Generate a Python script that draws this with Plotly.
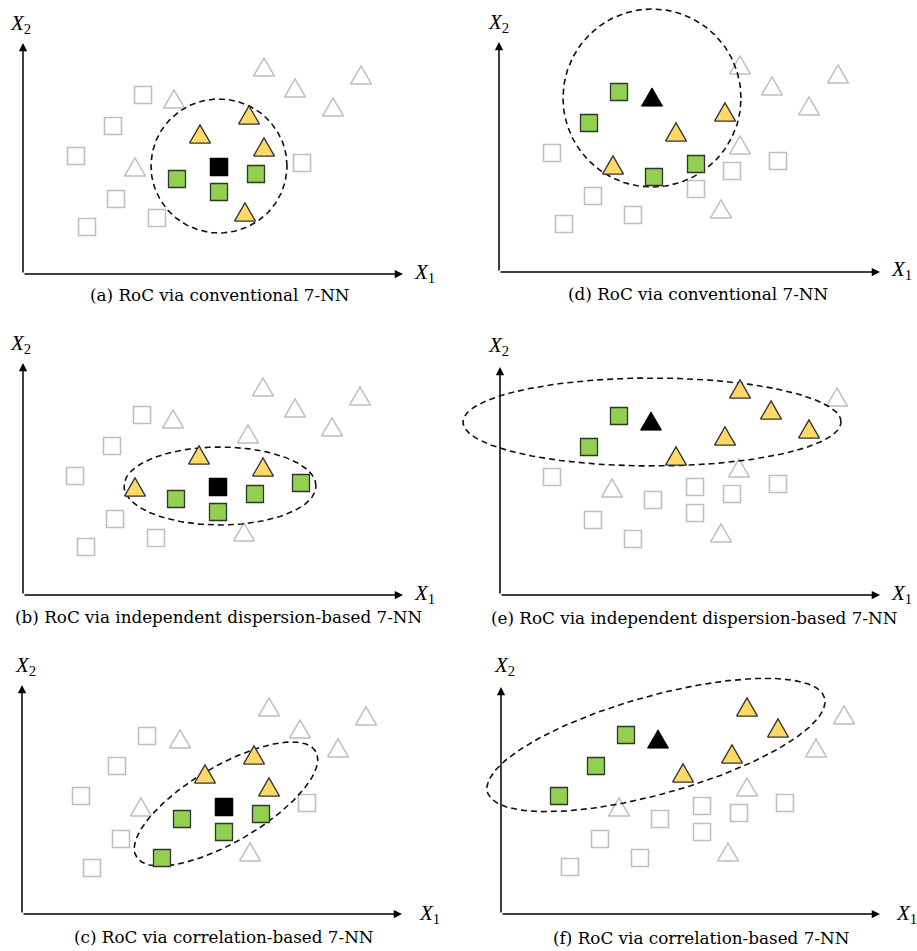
import numpy as np
import plotly.graph_objects as go

# ---------------- data (local coordinates: x right, y up from axis origin) -------------
captions = ["(a) RoC via conventional 7-NN",
            "(b) RoC via independent dispersion-based 7-NN",
            "(c) RoC via correlation-based 7-NN",
            "(d) RoC via conventional 7-NN",
            "(e) RoC via independent dispersion-based 7-NN",
            "(f) RoC via correlation-based 7-NN"]

# panel (a)
a_gray_sq = [(120, 179), (90, 148), (53, 118), (93, 75), (64, 47), (134, 56), (279, 111)]
a_gray_tri = [(241, 207), (338, 199), (272, 186), (310, 167), (151, 175), (112, 107)]
a_yel_tri = [(226, 159), (177, 140), (241, 127), (222, 62)]
a_grn_sq = [(154, 95), (196, 82), (233, 100)]
a_query = (196, 107)
a_ellipse = (196, 108, 68, 67, 0.0)      # cx, cy, a, b, angle(deg)

# panel (b)
b_gray_sq = [(119, 180), (89, 149), (52, 119), (92, 76), (63, 48), (133, 57)]
b_gray_tri = [(240, 208), (337, 199), (272, 187), (309, 168), (150, 176), (225, 161), (221, 63)]
b_yel_tri = [(176, 140), (240, 128), (112, 108)]
b_grn_sq = [(153, 96), (195, 83), (232, 101), (278, 112)]
b_query = (195, 108)
b_ellipse = (197, 109, 96, 39, 0.0)

# panel (c)
c_gray_sq = [(125, 178), (95, 148), (59, 118), (99, 75), (70, 46), (285, 111)]
c_gray_tri = [(247, 207), (344, 198), (278, 185), (316, 166), (158, 175), (119, 107), (228, 62)]
c_yel_tri = [(183, 140), (232, 159), (247, 127)]
c_grn_sq = [(160, 95), (202, 82), (239, 100), (140, 56)]
c_query = (202, 107)
c_ellipse = (204, 110, 104, 38, 30.4)

# panel (d)
d_gray_sq = [(53, 119), (94, 76), (65, 48), (134, 57), (197, 83), (233, 101), (279, 111)]
d_gray_tri = [(241, 207), (273, 186), (339, 198), (310, 166), (241, 127), (222, 63)]
d_yel_tri = [(226, 160), (177, 140), (114, 107)]
d_grn_sq = [(120, 180), (90, 149), (155, 95), (197, 108)]
d_query = (153, 175)
d_ellipse = (153, 174, 89, 89, 0.0)

# panel (e)
e_gray_sq = [(52, 118), (93, 75), (133, 56), (153, 95), (195, 108), (195, 82), (232, 101), (278, 111)]
e_gray_tri = [(112, 107), (239, 127), (221, 62), (337, 198)]
e_yel_tri = [(240, 206), (271, 185), (309, 166), (225, 159), (176, 139)]
e_grn_sq = [(119, 179), (89, 148)]
e_query = (151, 174)
e_ellipse = (152, 173, 189, 44, 0.0)

# panel (f)
f_gray_sq = [(69, 47), (99, 75), (139, 56), (159, 95), (201, 108), (201, 82), (238, 101), (284, 111)]
f_gray_tri = [(118, 107), (246, 127), (227, 62), (343, 199), (315, 166)]
f_yel_tri = [(246, 207), (277, 186), (231, 160), (182, 141)]
f_grn_sq = [(125, 179), (95, 148), (58, 118)]
f_query = (157, 175)
f_ellipse = (155, 169, 175, 49, 15.6)

query_shape = ["square", "square", "square", "triangle", "triangle", "triangle"]
x_axis_len = [380, 380, 380, 381, 380, 379]
y_axis_len = [231, 232, 229, 230, 228, 227]
x1_label_pos = [(390, 1), (390, 1), (396, 0), (391, 2), (390, 1), (394, 0)]
x2_label_pos = [(-14, 250), (-14, 251), (-8, 248), (-12, 249), (-13, 249), (-8, 248)]
caption_pos = [(197, -21), (195, -22), (202, -23), (199, -22), (194, -23), (200, -24)]

# page position of each panel's axis origin (px) - layout
origins = [(23, 274), (23, 595), (22, 914), (499, 272), (500, 595), (501, 914)]

# ---------------- style ------------------------------------------------------------------
W, H = 917, 951
GRAY = "#BFBFBF"
YEL = "#FFD966"
GRN = "#92D050"
EDGE = "#333333"
SQ = 17
TRI_S = 21
FONT = "DejaVu Serif"
LABEL_FONT = "Liberation Serif"

panels = [
    (a_gray_sq, a_gray_tri, a_yel_tri, a_grn_sq, a_query, a_ellipse),
    (b_gray_sq, b_gray_tri, b_yel_tri, b_grn_sq, b_query, b_ellipse),
    (c_gray_sq, c_gray_tri, c_yel_tri, c_grn_sq, c_query, c_ellipse),
    (d_gray_sq, d_gray_tri, d_yel_tri, d_grn_sq, d_query, d_ellipse),
    (e_gray_sq, e_gray_tri, e_yel_tri, e_grn_sq, e_query, e_ellipse),
    (f_gray_sq, f_gray_tri, f_yel_tri, f_grn_sq, f_query, f_ellipse),
]


def tri_path(points, s=TRI_S):
    h = s * np.sqrt(3) / 2
    xs, ys = [], []
    for (cx, cy) in points:
        xs += [cx - s / 2, cx + s / 2, cx, cx - s / 2, None]
        ys += [cy - h / 2, cy - h / 2, cy + h / 2, cy - h / 2, None]
    return xs, ys


fig = go.Figure()
layout_axes = {}
annotations = []

for i, (gsq, gtri, ytri, gsqr, q, ell) in enumerate(panels):
    col = 0 if i < 3 else 1
    row = i % 3
    ox, oy = origins[i]
    px0, px1 = (0, W / 2) if col == 0 else (W / 2, W)
    py0, py1 = row * H / 3, (row + 1) * H / 3  # page top, page bottom
    xr = [px0 - ox, px1 - ox]
    yr = [oy - py1, oy - py0]
    sfx = "" if i == 0 else str(i + 1)
    xa, ya = "x" + sfx, "y" + sfx
    layout_axes["xaxis" + sfx] = dict(domain=[px0 / W, px1 / W], range=xr, visible=False,
                                      fixedrange=True, anchor=ya)
    layout_axes["yaxis" + sfx] = dict(domain=[1 - py1 / H, 1 - py0 / H], range=yr, visible=False,
                                      fixedrange=True, anchor=xa)

    # gray squares
    fig.add_trace(go.Scatter(x=[p[0] for p in gsq], y=[p[1] for p in gsq], mode="markers",
                             marker=dict(symbol="square", size=SQ, color="white",
                                         line=dict(color=GRAY, width=1.6)),
                             xaxis=xa, yaxis=ya, hoverinfo="skip", showlegend=False))
    # gray triangles
    tx, ty = tri_path(gtri)
    fig.add_trace(go.Scatter(x=tx, y=ty, mode="lines", fill="toself", fillcolor="white",
                             line=dict(color=GRAY, width=1.5),
                             xaxis=xa, yaxis=ya, hoverinfo="skip", showlegend=False))
    # ellipse
    cx, cy, ea, eb, ang = ell
    t = np.linspace(0, 2 * np.pi, 240)
    th = np.deg2rad(ang)
    ex = cx + ea * np.cos(t) * np.cos(th) - eb * np.sin(t) * np.sin(th)
    ey = cy + ea * np.cos(t) * np.sin(th) + eb * np.sin(t) * np.cos(th)
    fig.add_trace(go.Scatter(x=ex, y=ey, mode="lines",
                             line=dict(color="#111111", width=1.6, dash="6px,4px"),
                             xaxis=xa, yaxis=ya, hoverinfo="skip", showlegend=False))
    # yellow triangles
    tx, ty = tri_path(ytri)
    fig.add_trace(go.Scatter(x=tx, y=ty, mode="lines", fill="toself", fillcolor=YEL,
                             line=dict(color=EDGE, width=1.3),
                             xaxis=xa, yaxis=ya, hoverinfo="skip", showlegend=False))
    # green squares
    fig.add_trace(go.Scatter(x=[p[0] for p in gsqr], y=[p[1] for p in gsqr], mode="markers",
                             marker=dict(symbol="square", size=SQ, color=GRN,
                                         line=dict(color=EDGE, width=1.3)),
                             xaxis=xa, yaxis=ya, hoverinfo="skip", showlegend=False))
    # query point
    if query_shape[i] == "square":
        fig.add_trace(go.Scatter(x=[q[0]], y=[q[1]], mode="markers",
                                 marker=dict(symbol="square", size=SQ + 1, color="black",
                                             line=dict(color="black", width=0.5)),
                                 xaxis=xa, yaxis=ya, hoverinfo="skip", showlegend=False))
    else:
        tx, ty = tri_path([q])
        fig.add_trace(go.Scatter(x=tx, y=ty, mode="lines", fill="toself", fillcolor="black",
                                 line=dict(color="black", width=1),
                                 xaxis=xa, yaxis=ya, hoverinfo="skip", showlegend=False))

    # axes with arrows
    annotations.append(dict(x=x_axis_len[i], y=0, ax=0, ay=0, xref=xa, yref=ya, axref=xa, ayref=ya,
                            showarrow=True, arrowhead=2, arrowsize=1.1, arrowwidth=1.5,
                            arrowcolor="black", text="", standoff=0))
    annotations.append(dict(x=0, y=y_axis_len[i], ax=0, ay=0, xref=xa, yref=ya, axref=xa, ayref=ya,
                            showarrow=True, arrowhead=2, arrowsize=1.1, arrowwidth=1.5,
                            arrowcolor="black", text="", standoff=0))
    annotations.append(dict(x=x1_label_pos[i][0], y=x1_label_pos[i][1], xref=xa, yref=ya,
                            text="<i>X</i><sub>1</sub>", showarrow=False,
                            xanchor="left", yanchor="middle", borderpad=0,
                            font=dict(family=LABEL_FONT, size=21, color="black")))
    annotations.append(dict(x=x2_label_pos[i][0], y=x2_label_pos[i][1], xref=xa, yref=ya,
                            text="<i>X</i><sub>2</sub>", showarrow=False,
                            xanchor="left", yanchor="middle", borderpad=0,
                            font=dict(family=LABEL_FONT, size=21, color="black")))
    annotations.append(dict(x=caption_pos[i][0], y=caption_pos[i][1], xref=xa, yref=ya,
                            text=captions[i], showarrow=False,
                            xanchor="center", yanchor="middle",
                            font=dict(family=FONT, size=16.8, color="black")))

fig.update_layout(width=W, height=H, margin=dict(l=0, r=0, t=0, b=0),
                  paper_bgcolor="white", plot_bgcolor="white",
                  showlegend=False, annotations=annotations, **layout_axes)

fig.write_html("out.html", config={"displayModeBar": False},
               post_script="document.body.style.margin='0';document.body.style.overflow='hidden';")
